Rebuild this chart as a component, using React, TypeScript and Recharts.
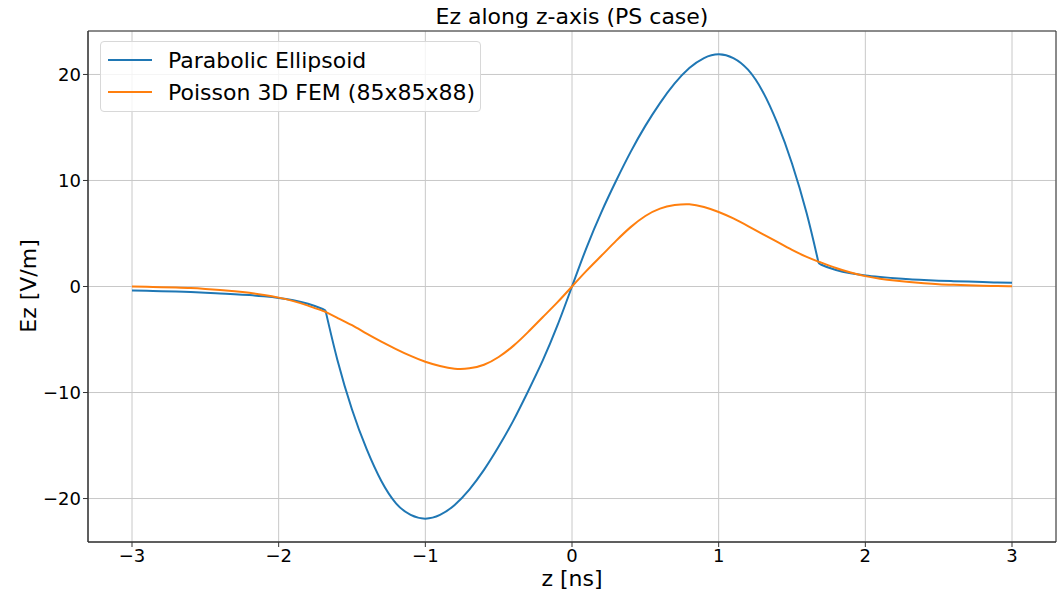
import React from "react"
import { LineChart, Line, XAxis, YAxis, CartesianGrid, ReferenceArea, Legend } from "recharts"

// z positions [ns]
const zValues = [
  -3.0, -2.9, -2.8, -2.7, -2.6, -2.5, -2.4, -2.3, -2.2, -2.1, -2.0, -1.9, -1.8, -1.7, -1.68,
  -1.6, -1.5, -1.4, -1.3, -1.2, -1.1, -1.0, -0.9, -0.8, -0.7, -0.6, -0.5, -0.4, -0.3, -0.2, -0.1,
  0.0,
  0.1, 0.2, 0.3, 0.4, 0.5, 0.6, 0.7, 0.8, 0.9, 1.0, 1.1, 1.2, 1.3, 1.4, 1.5, 1.6,
  1.68, 1.7, 1.8, 1.9, 2.0, 2.1, 2.2, 2.3, 2.4, 2.5, 2.6, 2.7, 2.8, 2.9, 3.0,
]

// Ez [V/m], parabolic ellipsoid model (bunch edge at |z| = 1.68)
const ellipsoidEz = [
  -0.38, -0.41, -0.44, -0.48, -0.53, -0.58, -0.65, -0.72, -0.81, -0.93, -1.08, -1.3, -1.63, -2.12, -2.3,
  -6.9, -11.6, -15.35, -18.35, -20.45, -21.55, -21.9, -21.55, -20.6, -19.15, -17.3, -15.1, -12.65, -9.9, -7.0, -3.7,
  0.0,
  3.7, 7.0, 9.95, 12.7, 15.15, 17.3, 19.15, 20.6, 21.55, 21.9, 21.55, 20.45, 18.4, 15.4, 11.6, 6.9,
  2.3, 2.05, 1.55, 1.25, 1.04, 0.9, 0.78, 0.68, 0.61, 0.55, 0.5, 0.46, 0.42, 0.38, 0.35,
]

// Ez [V/m], Poisson 3D FEM solution
const femEz = [
  0.0, -0.03, -0.06, -0.1, -0.15, -0.23, -0.33, -0.45, -0.6, -0.8, -1.05, -1.38, -1.8, -2.3, -2.4,
  -2.95, -3.65, -4.45, -5.2, -5.9, -6.55, -7.1, -7.5, -7.75, -7.72, -7.38, -6.65, -5.6, -4.3, -2.9, -1.5,
  0.0,
  1.5, 2.9, 4.3, 5.6, 6.65, 7.35, 7.68, 7.76, 7.5, 7.03, 6.42, 5.7, 4.95, 4.2, 3.45, 2.8,
  2.35, 2.25, 1.75, 1.32, 0.98, 0.74, 0.56, 0.42, 0.31, 0.22, 0.16, 0.11, 0.07, 0.05, 0.03,
]

const EDGE = 1.68

const xTicks = [-3, -2, -1, 0, 1, 2, 3]
const yTicks = [-20, -10, 0, 10, 20]

const seriesNames = ["Parabolic Ellipsoid", "Poisson 3D FEM (85x85x88)"]
const seriesColors = ["#1f77b4", "#ff7f0e"]

// the ellipsoid field has a kink at the bunch edge, so inside and outside are
// drawn as separate smooth pieces
const data = zValues.map((z, i) => ({
  z,
  inner: Math.abs(z) <= EDGE ? ellipsoidEz[i] : null,
  outer: Math.abs(z) >= EDGE ? ellipsoidEz[i] : null,
  fem: femEz[i],
}))

const FONT = "'DejaVu Sans', sans-serif"
const minus = (v: number) => String(v).replace("-", "\u2212")

function LegendBox() {
  return (
    <div
      style={{
        position: "absolute",
        left: 100,
        top: 41,
        width: 381,
        height: 71,
        border: "1px solid #d8d8d8",
        borderRadius: 4,
        background: "rgba(255,255,255,0.8)",
        boxSizing: "border-box",
        fontFamily: FONT,
        fontSize: 22,
        color: "#000",
      }}
    >
      {seriesNames.map((name, i) => (
        <div key={name} style={{ position: "absolute", left: 7, top: 4 + i * 32, height: 28, display: "flex", alignItems: "center", whiteSpace: "nowrap" }}>
          <span style={{ display: "inline-block", width: 44, height: 2, background: seriesColors[i], marginRight: 16 }} />
          <span>{name}</span>
        </div>
      ))}
    </div>
  )
}

export default function App() {
  return (
    <div style={{ position: "absolute", left: 0, top: 0, width: 1060, height: 592, background: "#fff", fontFamily: FONT }}>
      <div style={{ position: "absolute", left: 88, width: 968, top: 4, textAlign: "center", fontSize: 22, color: "#000" }}>
        Ez along z-axis (PS case)
      </div>
      <div style={{ position: "absolute", left: 88, width: 968, top: 566, textAlign: "center", fontSize: 22, color: "#000" }}>
        z [ns]
      </div>
      <div
        style={{
          position: "absolute",
          left: 28,
          top: 286,
          transform: "translate(-50%, -50%) rotate(-90deg)",
          fontSize: 22,
          whiteSpace: "nowrap",
          color: "#000",
        }}
      >
        Ez [V/m]
      </div>
      <LineChart width={1060} height={592} data={data} margin={{ top: 31, right: 4, bottom: 0, left: 0 }}>
        <CartesianGrid stroke="#c8c8c8" strokeWidth={1} />
        <XAxis
          type="number"
          dataKey="z"
          domain={[-3.3, 3.3]}
          ticks={xTicks}
          allowDataOverflow
          height={50}
          tickSize={5}
          stroke="#333"
          tick={{ fill: "#000", fontSize: 18, fontFamily: FONT }}
          tickFormatter={minus}
        />
        <YAxis
          type="number"
          domain={[-24.1, 24.1]}
          ticks={yTicks}
          allowDataOverflow
          width={88}
          tickSize={5}
          stroke="#333"
          tick={{ fill: "#000", fontSize: 18, fontFamily: FONT }}
          tickFormatter={minus}
        />
        <ReferenceArea x1={-3.3} x2={3.3} y1={-24.1} y2={24.1} fill="none" stroke="#333" strokeWidth={1} />
        <Line type="natural" dataKey="inner" stroke={seriesColors[0]} strokeWidth={2} dot={false} isAnimationActive={false} />
        <Line type="natural" dataKey="outer" stroke={seriesColors[0]} strokeWidth={2} dot={false} isAnimationActive={false} />
        <Line type="natural" dataKey="fem" stroke={seriesColors[1]} strokeWidth={2} dot={false} isAnimationActive={false} />
        <Legend content={() => null} />
      </LineChart>
      <LegendBox />
    </div>
  )
}
